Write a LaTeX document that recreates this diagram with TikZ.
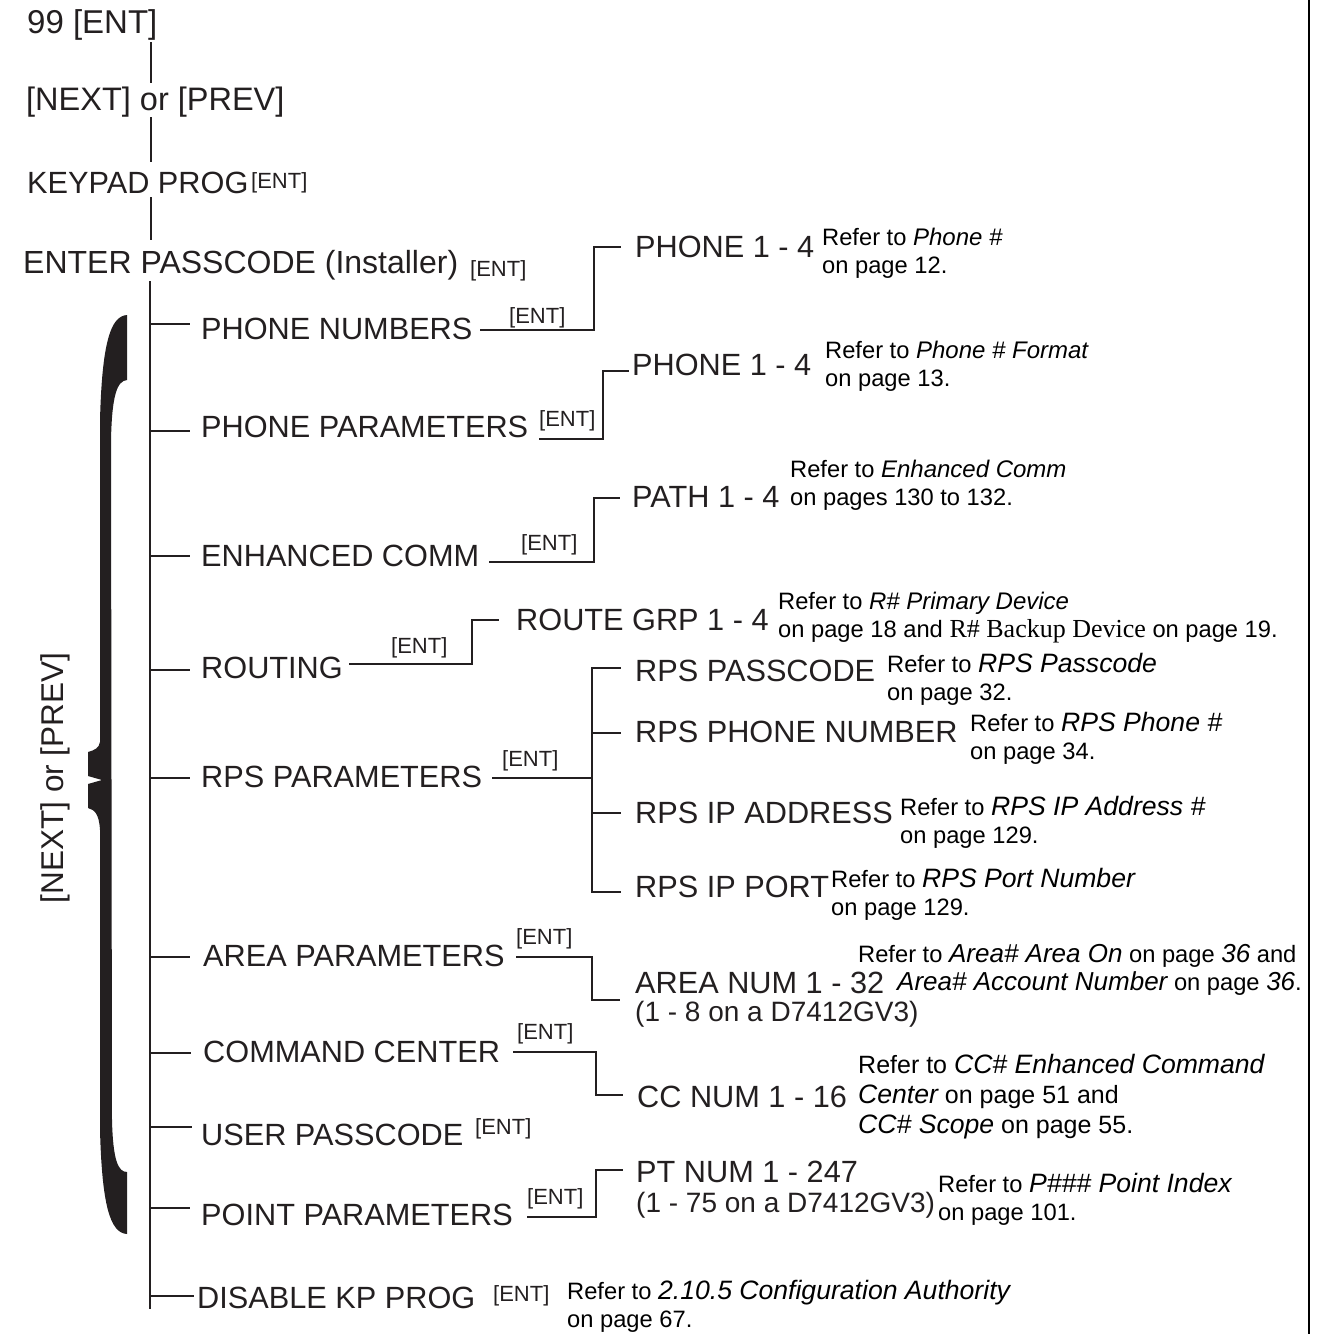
\documentclass[tikz,border=0pt]{standalone}
\usepackage{fontspec}
\newfontfamily\menufont{Liberation Sans}
\newfontfamily\bookfont{Liberation Serif}
\definecolor{ink}{HTML}{231F20}
% italic titles in the notes are set a bit larger
\newcommand\rit[2][26.6]{{\fontsize{#1}{28}\selectfont\itshape #2}}

\tikzset{menu item/.style={font=\menufont\fontsize{30.7}{36}\selectfont,anchor=base west,text=ink,inner sep=0cm},
ent tag/.style={font=\menufont\fontsize{22}{26}\selectfont,anchor=base west,text=ink,inner sep=0cm},
model note/.style={font=\menufont\fontsize{28}{32}\selectfont,anchor=base west,text=ink,inner sep=0cm},
refer note/.style={font=\menufont\fontsize{23.7}{28}\selectfont,anchor=base west,align=left,text=black,inner sep=0cm},
side label/.style={font=\menufont\fontsize{31.5}{36}\selectfont,anchor=base,rotate=90,text=ink,inner sep=0cm},
trunk/.style={line width=2.5pt,draw=ink},
branch/.style={line width=2.8pt,draw=ink},
edge rule/.style={line width=2.4pt,draw=black}}

\begin{document}
\begin{tikzpicture}[x=1pt,y=-1pt]
\useasboundingbox (0,0) rectangle (1319,1334);

%% Coordinates of the main column.
\coordinate (m0) at (151,42);
\coordinate (m0p) at (151,83);
\coordinate (m1) at (151,117);
\coordinate (m1p) at (151,162);
\coordinate (m2) at (151,197);
\coordinate (m2p) at (151,240);
\coordinate (t0) at (150,281);
\coordinate (t1) at (150,1309);

%% Coordinates of the menu ticks.
\coordinate (k1) at (150,324);  \coordinate (k1p) at (190,324);
\coordinate (k2) at (150,431);  \coordinate (k2p) at (190,431);
\coordinate (k3) at (150,556);  \coordinate (k3p) at (190,556);
\coordinate (k4) at (150,670);  \coordinate (k4p) at (190,670);
\coordinate (k5) at (150,778);  \coordinate (k5p) at (190,778);
\coordinate (k6) at (150,957);  \coordinate (k6p) at (190,957);
\coordinate (k7) at (150,1053); \coordinate (k7p) at (191,1053);
\coordinate (k8) at (150,1127); \coordinate (k8p) at (192,1127);
\coordinate (k9) at (150,1208); \coordinate (k9p) at (190,1208);
\coordinate (k10) at (150,1296); \coordinate (k10p) at (194,1296);

%% Coordinates of the [ENT] steps.
\coordinate (pn0) at (480,330); \coordinate (pn1) at (594,330);
\coordinate (pn2) at (594,247); \coordinate (pn3) at (621,247);
\coordinate (pp0) at (539,439); \coordinate (pp1) at (603,439);
\coordinate (pp2) at (603,371); \coordinate (pp3) at (629,371);
\coordinate (ec0) at (489,562); \coordinate (ec1) at (594,562);
\coordinate (ec2) at (594,498); \coordinate (ec3) at (620,498);
\coordinate (rt0) at (349,664); \coordinate (rt1) at (472,664);
\coordinate (rt2) at (472,620); \coordinate (rt3) at (499,620);
\coordinate (rp0) at (492,778); \coordinate (rp1) at (592,778);
\coordinate (rpa) at (592,668); \coordinate (rpap) at (621,668);
\coordinate (rpb) at (592,733); \coordinate (rpbp) at (621,733);
\coordinate (rpc) at (592,813); \coordinate (rpcp) at (621,813);
\coordinate (rpd) at (592,892); \coordinate (rpdp) at (621,892);
\coordinate (ap0) at (516,957); \coordinate (ap1) at (592,957);
\coordinate (ap2) at (592,1000); \coordinate (ap3) at (620,1000);
\coordinate (cc0) at (513,1052); \coordinate (cc1) at (596,1052);
\coordinate (cc2) at (596,1095); \coordinate (cc3) at (623,1095);
\coordinate (pt0) at (527,1217); \coordinate (pt1) at (596,1217);
\coordinate (pt2) at (596,1170); \coordinate (pt3) at (623,1170);
\coordinate (rb0) at (1309,0);  \coordinate (rb1) at (1309,1334);

%% vertical lines
\draw [trunk] (m0) -- (m0p);
\draw [trunk] (m1) -- (m1p);
\draw [trunk] (m2) -- (m2p);
\draw [trunk] (t0) -- (t1);
\draw [branch,line cap=rect] (pn1) -- (pn2);
\draw [branch,line cap=rect] (pp1) -- (pp2);
\draw [branch,line cap=rect] (ec1) -- (ec2);
\draw [branch,line cap=rect] (rt1) -- (rt2);
\draw [branch,line cap=rect] (rpa) -- (rpd);
\draw [branch,line cap=rect] (ap1) -- (ap2);
\draw [branch,line cap=rect] (cc1) -- (cc2);
\draw [branch,line cap=rect] (pt1) -- (pt2);
\draw [edge rule] (rb0) -- (rb1);

%% horizontal lines
\draw [branch] (k1) -- (k1p);
\draw [branch] (k2) -- (k2p);
\draw [branch] (k3) -- (k3p);
\draw [branch] (k4) -- (k4p);
\draw [branch] (k5) -- (k5p);
\draw [branch] (k6) -- (k6p);
\draw [branch] (k7) -- (k7p);
\draw [branch] (k8) -- (k8p);
\draw [branch] (k9) -- (k9p);
\draw [branch] (k10) -- (k10p);
\draw [branch] (pn0) -- (pn1);
\draw [branch] (pn2) -- (pn3);
\draw [branch] (pp0) -- (pp1);
\draw [branch] (pp2) -- (pp3);
\draw [branch] (ec0) -- (ec1);
\draw [branch] (ec2) -- (ec3);
\draw [branch] (rt0) -- (rt1);
\draw [branch] (rt2) -- (rt3);
\draw [branch] (rp0) -- (rp1);
\draw [branch] (rpa) -- (rpap);
\draw [branch] (rpb) -- (rpbp);
\draw [branch] (rpc) -- (rpcp);
\draw [branch] (rpd) -- (rpdp);
\draw [branch] (ap0) -- (ap1);
\draw [branch] (ap2) -- (ap3);
\draw [branch] (cc0) -- (cc1);
\draw [branch] (cc2) -- (cc3);
\draw [branch] (pt0) -- (pt1);
\draw [branch] (pt2) -- (pt3);

%% the brace
\fill [ink] (127,315) .. controls (110,316) and (102,345) .. (100,420)
  -- (100,742) .. controls (99,748) and (95,750) .. (88,752)
  -- (88,776) -- (102,780) -- (88,784) -- (88,808)
  .. controls (95,810) and (99,814) .. (100,830)
  -- (100,1130) .. controls (102,1205) and (110,1233) .. (127,1234)
  -- (127,1172) .. controls (118,1172) and (113,1160) .. (112,1120)
  -- (111,440) .. controls (112,395) and (117,381) .. (127,380) -- cycle;
\node [side label] (cycle) at (63,778) {[NEXT] or [PREV]};

%% entry labels
\node [menu item,font=\menufont\fontsize{33}{38}\selectfont] (start) at (27,33) {99 [ENT]};
\node [menu item,font=\menufont\fontsize{32.5}{38}\selectfont] (scroll) at (26,110) {[NEXT] or [PREV]};
\node [menu item] (keypad) at (27,193) {KEYPAD PROG};
\node [ent tag] (keypadent) at (251,188) {[ENT]};
\node [menu item,font=\menufont\fontsize{32}{38}\selectfont] (passcode) at (23,273) {ENTER PASSCODE (Installer)};
\node [ent tag] (passcodeent) at (470,276) {[ENT]};

%% menu labels
\node [menu item] (phonenum) at (201,339) {PHONE NUMBERS};
\node [ent tag] (phonenument) at (509,323) {[ENT]};
\node [menu item] (phonepar) at (201,437) {PHONE PARAMETERS};
\node [ent tag] (phoneparent) at (539,426) {[ENT]};
\node [menu item] (enhcomm) at (201,566) {ENHANCED COMM};
\node [ent tag] (enhcomment) at (521,550) {[ENT]};
\node [menu item] (routing) at (201,678) {ROUTING};
\node [ent tag] (routingent) at (391,653) {[ENT]};
\node [menu item] (rpspar) at (201,787) {RPS PARAMETERS};
\node [ent tag] (rpsparent) at (502,766) {[ENT]};
\node [menu item] (areapar) at (203,966) {AREA PARAMETERS};
\node [ent tag] (areaparent) at (516,944) {[ENT]};
\node [menu item] (cmdcenter) at (203,1062) {COMMAND CENTER};
\node [ent tag] (cmdcenterent) at (517,1039) {[ENT]};
\node [menu item] (userpass) at (201,1145) {USER PASSCODE};
\node [ent tag] (userpassent) at (475,1134) {[ENT]};
\node [menu item] (pointpar) at (201,1225) {POINT PARAMETERS};
\node [ent tag] (pointparent) at (527,1204) {[ENT]};
\node [menu item] (disablekp) at (197,1308) {DISABLE KP PROG};
\node [ent tag] (disablekpent) at (493,1301) {[ENT]};

%% sub menu labels
\node [menu item] (phoneA) at (635,257) {PHONE 1 - 4};
\node [menu item] (phoneB) at (632,375) {PHONE 1 - 4};
\node [menu item] (path) at (632,507) {PATH 1 - 4};
\node [menu item] (routegrp) at (516,630) {ROUTE GRP 1 - 4};
\node [menu item] (rpspass) at (635,681) {RPS PASSCODE};
\node [menu item] (rpsphone) at (635,742) {RPS PHONE NUMBER};
\node [menu item] (rpsip) at (635,823) {RPS IP ADDRESS};
\node [menu item] (rpsport) at (635,897) {RPS IP PORT};
\node [menu item] (areanum) at (635,993) {AREA NUM 1 - 32};
\node [model note] (areanote) at (635,1021) {(1 - 8 on a D7412GV3)};
\node [menu item] (ccnum) at (637,1107) {CC NUM 1 - 16};
\node [menu item] (ptnum) at (636,1182) {PT NUM 1 - 247};
\node [model note] (ptnote) at (636,1212) {(1 - 75 on a D7412GV3)};

%% page references (placed at the baseline of their last line)
\node [refer note] (refA) at (822,273) {Refer to \rit[24]{Phone \#}\\on page 12.};
\node [refer note] (refB) at (825,386) {Refer to \rit[24]{Phone \# Format}\\on page 13.};
\node [refer note] (refC) at (790,505) {Refer to \rit[24]{Enhanced Comm}\\on pages 130 to 132.};
\node [refer note] (refD) at (778,637) {Refer to \rit[24]{R\# Primary Device}\\on page 18 and {\bookfont\fontsize{26}{28}\selectfont R\# Backup Device} on page 19.};
\node [refer note] (refE) at (887,700) {Refer to \rit{RPS Passcode}\\on page 32.};
\node [refer note] (refF) at (970,759) {Refer to \rit{RPS Phone \#}\\on page 34.};
\node [refer note] (refG) at (900,843) {Refer to \rit{RPS IP Address \#}\\on page 129.};
\node [refer note] (refH) at (831,915) {Refer to \rit{RPS Port Number}\\on page 129.};
\node [refer note] (refI) at (858,962) {Refer to \rit[26]{Area\# Area On} on page \rit[26]{36} and};
\node [refer note] (refJ) at (897,990) {\rit[26]{Area\# Account Number} on page \rit[26]{36}.};
\node [refer note,font=\menufont\fontsize{25}{30}\selectfont] (refK) at (858,1133) {Refer to \rit{CC\# Enhanced Command}\\\rit{Center} on page 51 and\\\rit{CC\# Scope} on page 55.};
\node [refer note] (refL) at (938,1220) {Refer to \rit{P\#\#\# Point Index}\\on page 101.};
\node [refer note] (refM) at (567,1327) {Refer to \rit{2.10.5 Configuration Authority}\\on page 67.};

\end{tikzpicture}
\end{document}
